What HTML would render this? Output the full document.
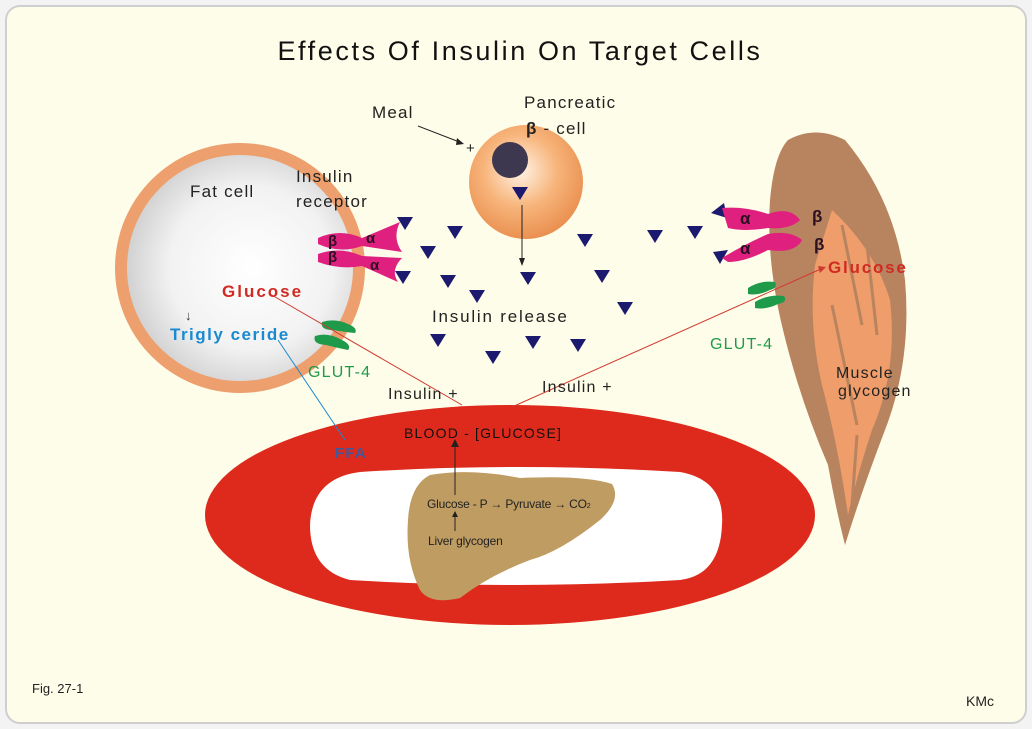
<!DOCTYPE html>
<html><head><meta charset="utf-8"><style>
html,body{margin:0;padding:0;background:#fff}
svg{display:block}
text{font-family:"Liberation Sans",sans-serif;letter-spacing:1.2px}
</style></head><body>
<svg width="1032" height="729" viewBox="0 0 1032 729" xmlns="http://www.w3.org/2000/svg">
<defs>
<radialGradient id="fg" cx="0.55" cy="0.5" r="0.6"><stop offset="0" stop-color="#ffffff"/><stop offset="0.6" stop-color="#f2f2f2"/><stop offset="1" stop-color="#c9c9c9"/></radialGradient>
<radialGradient id="pg" cx="0.45" cy="0.4" r="0.65"><stop offset="0" stop-color="#fff3e6"/><stop offset="0.5" stop-color="#f7b47a"/><stop offset="1" stop-color="#e88a4a"/></radialGradient>
<g id="t"><polygon points="-8,-6 8,-6 0,7" fill="#1c1a6e"/></g>
</defs>
<rect x="0" y="0" width="1032" height="729" fill="#f3f3f3"/>
<rect x="6" y="6" width="1020" height="717" rx="14" fill="#fefde9" stroke="#cfcfcf" stroke-width="2"/>
<text x="520" y="60" font-size="27" text-anchor="middle" fill="#111" style="letter-spacing:2.6px">Effects Of Insulin On Target Cells</text>

<!-- Blood -->
<ellipse cx="510" cy="515" rx="305" ry="110" fill="#dd2a1c"/>
<path d="M360 472 Q515 462 680 472 Q725 480 722 525 Q720 575 680 580 Q515 590 350 580 Q310 570 310 525 Q312 478 360 472Z" fill="#fff"/>
<!-- Liver -->
<path d="M430 475 Q470 468 520 478 Q585 475 612 484 Q622 500 600 520 Q560 552 530 560 Q490 575 460 598 Q430 605 420 590 Q405 560 408 520 Q410 485 430 475Z" fill="#bf9c62"/>
<text x="427" y="508" font-size="12" fill="#222" style="letter-spacing:-0.2px">Glucose - P → Pyruvate → CO<tspan font-size="7">2</tspan></text>
<text x="428" y="545" font-size="12" fill="#222" style="letter-spacing:-0.2px">Liver glycogen</text>
<line x1="455" y1="495" x2="455" y2="443" stroke="#222" stroke-width="1"/>
<polygon points="451,447 455,439 459,447" fill="#222"/>
<line x1="455" y1="531" x2="455" y2="514" stroke="#222" stroke-width="1"/>
<polygon points="452,517 455,511 458,517" fill="#222"/>
<text x="404" y="438" font-size="14" fill="#111">BLOOD - [GLUCOSE]</text>

<!-- Fat cell -->
<circle cx="240" cy="268" r="125" fill="#eda06e"/>
<circle cx="240" cy="268" r="113" fill="url(#fg)"/>
<text x="190" y="197" font-size="17" fill="#222">Fat cell</text>
<text x="296" y="182" font-size="17" fill="#222">Insulin</text>
<text x="296" y="207" font-size="17" fill="#222">receptor</text>
<text x="222" y="297" font-size="17" font-weight="bold" fill="#d02a22" style="letter-spacing:2px">Glucose</text>
<text x="170" y="340" font-size="17" font-weight="bold" fill="#1a8ad0" style="letter-spacing:1.5px">Trigly ceride</text>
<text x="185" y="320" font-size="13" fill="#333">↓</text>
<!-- GLUT-4 fat -->
<g fill="#1f9a4a"><path d="M322 322 Q335 318 348 324 Q358 328 355 333 Q345 332 333 330 Q320 330 322 322Z"/><path d="M315 336 Q328 332 342 340 Q352 345 348 350 Q338 348 326 345 Q312 344 315 336Z"/></g>
<text x="308" y="377" font-size="16" fill="#1f9a4a">GLUT-4</text>
<!-- fat receptors -->
<g fill="#e0207f">
<path d="M318 238 Q340 228 362 238 L400 222 Q392 238 402 252 L362 246 Q340 254 318 244Z"/>
<path d="M318 254 Q340 246 362 256 L402 258 Q390 270 398 282 L362 266 Q340 270 318 262Z"/>
</g>
<g font-weight="bold" fill="#2a1020" font-size="15"><text x="328" y="246">β</text><text x="328" y="262">β</text><text x="366" y="243">α</text><text x="370" y="270">α</text></g>

<!-- Pancreatic cell -->
<circle cx="526" cy="182" r="57" fill="url(#pg)"/>
<circle cx="510" cy="160" r="18" fill="#3d3750"/>
<text x="524" y="108" font-size="17" fill="#222">Pancreatic</text>
<text x="526" y="134" font-size="17" fill="#222"><tspan font-weight="bold">β</tspan> - cell</text>
<text x="372" y="118" font-size="17" fill="#222">Meal</text>
<line x1="418" y1="126" x2="462" y2="143" stroke="#222" stroke-width="1"/>
<polygon points="457,138 464,144 456,145" fill="#222"/>
<text x="466" y="153" font-size="15" fill="#222">+</text>
<line x1="522" y1="205" x2="522" y2="262" stroke="#222" stroke-width="1"/>
<polygon points="519,258 522,266 525,258" fill="#222"/>
<text x="432" y="322" font-size="17" fill="#222" style="letter-spacing:1.8px">Insulin release</text>

<!-- insulin triangles -->
<use href="#t" x="405" y="223"/><use href="#t" x="455" y="232"/><use href="#t" x="428" y="252"/>
<use href="#t" x="520" y="193"/><use href="#t" x="585" y="240"/><use href="#t" x="655" y="236"/>
<use href="#t" x="695" y="232"/><use href="#t" x="528" y="278"/><use href="#t" x="602" y="276"/>
<use href="#t" x="448" y="281"/><use href="#t" x="477" y="296"/><use href="#t" x="625" y="308"/>
<use href="#t" x="438" y="340"/><use href="#t" x="493" y="357"/><use href="#t" x="533" y="342"/>
<use href="#t" x="578" y="345"/><use href="#t" x="403" y="277"/>
<polygon points="711,213 724,203 727,218" fill="#1c1a6e"/>
<polygon points="713,252 728,250 720,264" fill="#1c1a6e"/>

<!-- Muscle -->
<path d="M788 140 Q815 125 845 140 Q895 200 905 280 Q912 360 885 430 Q862 490 845 545 Q835 505 828 465 Q800 400 783 330 Q766 260 770 200 Q774 155 788 140Z" fill="#b88460"/>
<path d="M832 210 Q875 250 890 300 Q898 370 872 430 Q857 475 848 515 Q838 445 822 385 Q808 325 815 265 Z" fill="#ef9d6a"/>
<g stroke="#b88460" stroke-width="3" fill="none"><path d="M842 225 L862 325"/><path d="M867 245 L877 335"/><path d="M832 305 L857 425"/><path d="M857 435 L852 505"/></g>
<text x="836" y="378" font-size="16" fill="#222">Muscle</text>
<text x="838" y="396" font-size="16" fill="#222">glycogen</text>
<text x="828" y="273" font-size="17" font-weight="bold" fill="#d02a22" style="letter-spacing:1.8px">Glucose</text>
<!-- muscle receptors -->
<g fill="#e0207f">
<path d="M722 208 Q745 206 768 214 Q790 206 800 220 Q790 230 768 228 Q745 232 728 228 Z"/>
<path d="M722 258 Q745 244 768 234 Q790 230 802 240 Q795 254 768 250 Q745 262 728 262 Z"/>
</g>
<g font-weight="bold" fill="#2a1020" font-size="17"><text x="740" y="224">α</text><text x="740" y="254">α</text><text x="812" y="222">β</text><text x="814" y="250">β</text></g>
<g fill="#1f9a4a"><path d="M748 288 Q760 280 775 282 Q778 288 770 290 Q758 296 748 294Z"/><path d="M755 302 Q768 294 784 296 Q788 302 778 304 Q766 310 755 308Z"/></g>
<text x="710" y="349" font-size="16" fill="#1f9a4a">GLUT-4</text>

<!-- connector lines -->
<line x1="512" y1="407" x2="823" y2="268" stroke="#d03a30" stroke-width="1"/>
<polygon points="818,266 826,267 820,273" fill="#d03a30"/>
<line x1="462" y1="405" x2="270" y2="294" stroke="#d03a30" stroke-width="1"/>
<line x1="278" y1="340" x2="345" y2="440" stroke="#1a8ad0" stroke-width="1"/>
<text x="335" y="458" font-size="15" font-weight="bold" fill="#3b5aa0">FFA</text>
<text x="388" y="399" font-size="16" fill="#222">Insulin +</text>
<text x="542" y="392" font-size="16" fill="#222">Insulin +</text>

<text x="32" y="693" font-size="13" fill="#222" style="letter-spacing:0">Fig. 27-1</text>
<text x="966" y="706" font-size="14" fill="#222" style="letter-spacing:0">KMc</text>
</svg>
</body></html>
